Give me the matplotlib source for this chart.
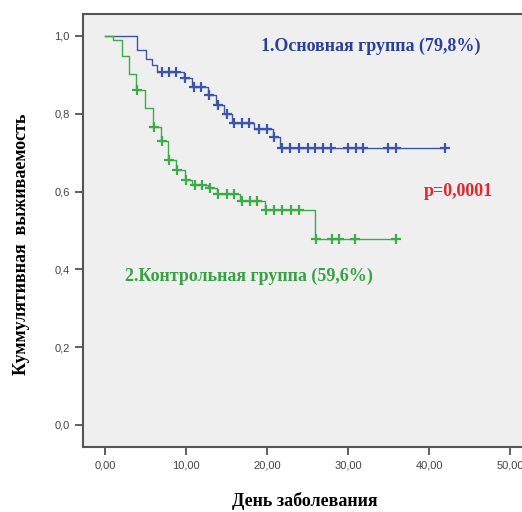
import numpy as np
import matplotlib
matplotlib.use("Agg")
import matplotlib.pyplot as plt

# Group 1 (main group) - Kaplan-Meier steps
g1_step_times = [4.0, 5.0, 5.8, 6.4, 9.7, 10.7, 12.7, 13.7, 14.7, 15.7, 18.4, 20.7, 21.6]
g1_step_surv = [0.963, 0.942, 0.925, 0.908, 0.891, 0.868, 0.848, 0.823, 0.800, 0.777, 0.762, 0.740, 0.712]
g1_censor = [7.0, 7.9, 8.8, 9.9, 11.0, 11.9, 12.8, 13.9, 15.0, 15.9, 16.9, 17.8, 19.0, 20.0,
             20.8, 21.9, 22.8, 24.0, 25.1, 25.9, 26.9, 27.9, 30.0, 31.0, 31.9, 34.9, 35.9, 42.0]

# Group 2 (control group)
g2_step_times = [1.0, 2.1, 3.0, 3.8, 4.9, 5.9, 6.9, 7.8, 8.8, 9.9, 10.7, 12.7, 13.8, 16.7, 19.7, 25.9]
g2_step_surv = [0.990, 0.948, 0.902, 0.860, 0.815, 0.765, 0.729, 0.680, 0.656, 0.630, 0.617,
                0.608, 0.595, 0.577, 0.553, 0.477]
g2_censor = [3.9, 6.0, 7.0, 7.9, 8.9, 10.0, 11.1, 12.0, 12.9, 14.0, 15.0, 15.9, 16.9, 17.9, 18.8,
             19.9, 20.9, 21.9, 22.9, 24.0, 26.0, 28.0, 28.9, 30.9, 35.9]

x_ticks = [0, 10, 20, 30, 40, 50]
x_ticklabels = ["0,00", "10,00", "20,00", "30,00", "40,00", "50,00"]
y_ticks = [0.0, 0.2, 0.4, 0.6, 0.8, 1.0]
y_ticklabels = ["0,0", "0,2", "0,4", "0,6", "0,8", "1,0"]

label1 = "1.Основная группа (79,8%)"
label2 = "2.Контрольная группа (59,6%)"
p_text = "p=0,0001"
xlabel = "День заболевания"
ylabel = "Куммулятивная  выживаемость"

c_blue = "#3D55A8"
c_green = "#3FAA4A"

fig = plt.figure(figsize=(5.22, 5.12), dpi=100)
ax = fig.add_axes([0.159, 0.127, 0.860, 0.846])
ax.set_facecolor("#EFEFEF")


def km(ax, st, ss, cens, color):
    t_end = max(cens[-1], st[-1])
    t = [0.0] + list(st) + [t_end]
    s = [1.0] + list(ss) + [ss[-1]]
    ax.step(t, s, where="post", color=color, lw=1.0)
    st_arr = np.array(st)
    ss_arr = np.array([1.0] + list(ss))
    idx = np.searchsorted(st_arr, np.array(cens), side="right")
    cy = ss_arr[idx]
    ax.plot(cens, cy, linestyle="none", marker="+", markersize=7, mew=1.6, color=color)


km(ax, g1_step_times, g1_step_surv, g1_censor, c_blue)
km(ax, g2_step_times, g2_step_surv, g2_censor, c_green)

ax.set_xlim(-2.72, 52.7)
ax.set_ylim(-0.0566, 1.057)
ax.set_xticks(x_ticks)
ax.set_xticklabels(x_ticklabels, fontsize=8, color="#444444", family="Liberation Sans")
ax.set_yticks(y_ticks)
ax.set_yticklabels(y_ticklabels, fontsize=8, color="#444444", family="Liberation Sans")
ax.tick_params(direction="out", length=6, width=1.2, color="#444444")

for sp in ["left", "bottom", "top"]:
    ax.spines[sp].set_color("#555555")
    ax.spines[sp].set_linewidth(1.5)
ax.spines["right"].set_visible(False)

serif = dict(family="Liberation Serif", weight="bold")
ax.text(19.2, 0.974, label1, color="#2B3F9C", fontsize=13, va="center", ha="left", **serif)
ax.text(2.5, 0.381, label2, color="#36A243", fontsize=13, va="center", ha="left", **serif)
ax.text(39.3, 0.599, p_text, color="#E8242C", fontsize=13, va="center", ha="left", **serif)

fig.text(0.583, 0.022, xlabel, fontsize=13, ha="center", va="center", **serif)
fig.text(0.042, 0.523, ylabel, fontsize=13, ha="center", va="center", rotation=90, **serif)

fig.savefig("out.png", dpi=100, facecolor="white")
